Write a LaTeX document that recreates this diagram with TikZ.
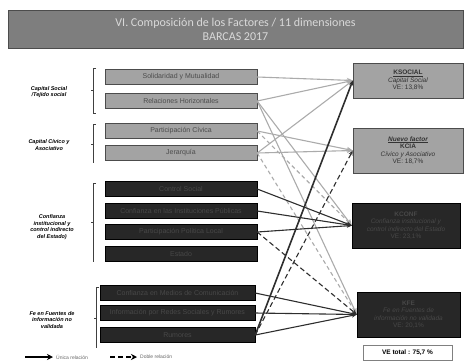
\documentclass[tikz,border=0pt]{standalone}
\usepackage{fontspec}
\setmainfont{Liberation Sans}
\newfontfamily\titlefont{Carlito}
\usetikzlibrary{arrows.meta,positioning}
\definecolor{bannergray}{HTML}{7E7E7E}
\definecolor{itemgray}{HTML}{A3A3A3}
\definecolor{itemdark}{HTML}{272727}
\definecolor{itemdarktext}{HTML}{484848}
\definecolor{linklight}{HTML}{ABABAB}
\definecolor{linkdark}{HTML}{2E2E2E}

\begin{document}
\begin{tikzpicture}[
        x=1pt,
        y=-1pt,
        >=Stealth,
        banner/.style={
            fill=bannergray,
            draw=gray!60!black,
            line width=0.4pt,
            minimum width=455pt,
            minimum height=38pt,
            align=center,
            text=white!85!black,
            font=\titlefont\fontsize{12}{14}\selectfont
        },
        item/.style={
            draw=gray!60!black,
            line width=0.4pt,
            fill=itemgray,
            minimum width=152pt,
            minimum height=15pt,
            inner sep=0pt,
            text=black!70,
            font=\fontsize{7}{8}\selectfont
        },
        ditem/.style={item, draw=black, fill=itemdark, text=itemdarktext},
        factor/.style={
            draw=gray!60!black,
            line width=0.4pt,
            fill=itemgray,
            align=center,
            inner sep=1pt,
            text=black!80,
            font=\fontsize{6.5}{7.5}\selectfont
        },
        dfactor/.style={factor, draw=black, fill=itemdark, text=itemdarktext},
        group/.style={align=center, font=\bfseries\itshape\fontsize{5.5}{6.5}\selectfont},
        brk/.style={line width=0.6pt, draw=black!75},
        lflow/.style={-{Stealth[length=6pt,width=5pt]}, line width=1.1pt, draw=linklight},
        lflowd/.style={lflow, dash pattern=on 4pt off 3pt},
        dflow/.style={-{Stealth[length=5pt,width=4pt]}, line width=1.1pt, draw=linkdark},
        dflowd/.style={dflow, dash pattern=on 5pt off 3pt}
    ]
        \useasboundingbox (0,0) rectangle (464,360);

        % Title banner
        \node[banner] (title) at (235.5,29) {VI. Composición de los Factores / 11 dimensiones\\BARCAS 2017};

        % Left column: the 11 dimensions
        \node[item] (sol) at (181,77) {Solidaridad y Mutualidad};
        \node[item] (rel) at (181,101) {Relaciones Horizontales};
        \node[item] (par) at (181,131) {Participación Cívica};
        \node[item] (jer) at (181,153) {Jerarquía};
        \node[ditem] (conf1) at (181,189) {Control Social};
        \node[ditem] (conf2) at (181,211) {Confianza en las Instituciones Públicas};
        \node[ditem] (conf3) at (181,232) {Participación Política Local};
        \node[ditem] (conf4) at (181,254) {Estado};
        \node[ditem, minimum width=155pt] (fe1) at (177.5,293) {Confianza en Medios de Comunicación};
        \node[ditem, minimum width=155pt] (fe2) at (177.5,313) {Información por Redes Sociales y Rumores};
        \node[ditem, minimum width=155pt] (fe3) at (177.5,335) {Rumores};

        % Group labels and their brackets
        \node[group] (g1) at (49,92) {Capital Social\\/Tejido social};
        \node[group] (g2) at (49,145) {Capital Cívico y\\Asociativo};
        \node[group] (g3) at (52,227) {Confianza\\institucional y\\control indirecto\\del Estado)};
        \node[group] (g4) at (52,320) {Fe en Fuentes de\\información no\\validada};
        \draw[brk] (96,68) -- (93,68) -- (93,113) -- (96,113);
        \draw[brk] (93,90) -- (91,90);
        \draw[brk] (96,124) -- (93,124) -- (93,163);
        \draw[brk] (93,144) -- (91,144);
        \draw[brk] (96,183) -- (93,183) -- (93,262);
        \draw[brk] (93,222) -- (91,222);
        \draw[brk] (99,287) -- (96,287) -- (96,348);
        \draw[brk] (96,318) -- (94,318);

        % Right column: factors
        \node[factor, minimum width=110pt, minimum height=35pt] (ksoc) at (408,80.5)
            {\textbf{\underline{KSOCIAL}}\\\textit{Capital Social}\\VE: 13,8\%};
        \node[factor, minimum width=110pt, minimum height=45pt] (kcia) at (408,150.5)
            {\textbf{\textit{\underline{Nuevo factor}}}\\\textbf{KCIA}\\\textit{Cívico y Asociativo}\\VE: 18,7\%};
        \node[dfactor, minimum width=108pt, minimum height=45pt] (kconf) at (406,225.5)
            {\textbf{KCONF}\\\textit{Confianza institucional y}\\\textit{control indirecto del Estado}\\VE: 23,1\%};
        \node[dfactor, minimum width=103pt, minimum height=45pt] (kfe) at (408.5,314.5)
            {\textbf{KFE}\\\textit{Fe en Fuentes de}\\\textit{información no validada}\\VE: 20,1\%};
        \node[draw=gray, fill=white, minimum width=89pt, minimum height=15pt, inner sep=0pt,
              font=\bfseries\fontsize{6.5}{7.5}\selectfont] (vet) at (407.5,352.5) {VE total : 75,7 \%};

        % Light links
        \draw[lflow] (sol.east) -- (ksoc.west);
        \draw[lflow] (rel.east) -- (ksoc.west);
        \draw[lflow] (jer.east) -- (ksoc.west);
        \draw[lflow] (par.east) -- (kcia.west);
        \draw[lflow] (jer.east) -- (kcia.west);
        \draw[lflow] (rel.east) -- (kconf.west);
        \draw[lflow] (rel.east) -- (kfe.west);
        \draw[lflowd] (par.east) -- (kconf.west);
        \draw[lflowd] (jer.east) -- (kfe.west);

        % Dark links
        \draw[dflow] (conf1.east) -- (kconf.west);
        \draw[dflow] (conf2.east) -- (kconf.west);
        \draw[dflow] (conf3.east) -- (kconf.west);
        \draw[dflowd] (conf3.east) -- (kfe.west);
        \draw[dflow] (fe1.east) -- (kfe.west);
        \draw[dflow] (fe2.east) -- (kfe.west);
        \draw[dflow] (fe3.east) -- (kfe.west);
        \draw[dflow, line width=1.6pt] (fe3.east) -- (ksoc.west);
        \draw[dflowd] (fe3.east) -- (kcia.west);

        % Legend
        \coordinate (la) at (25,357);
        \coordinate (lb) at (53,357);
        \coordinate (lc) at (110,357);
        \coordinate (ld) at (137,357);
        \draw[-{Stealth[length=6pt,width=6pt]}, line width=2.2pt, draw=black] (la) -- (lb);
        \node[right=3pt of lb, inner sep=0pt, text=black!60, font=\fontsize{5}{6}\selectfont] (lt1) {Única relación};
        \draw[-{Stealth[length=6pt,width=6pt]}, line width=2.2pt, dash pattern=on 5pt off 3pt, draw=black] (lc) -- (ld);
        \node[right=3pt of ld, inner sep=0pt, text=black!60, font=\fontsize{5}{6}\selectfont] (lt2) {Doble relación};

    \end{tikzpicture}
\end{document}
